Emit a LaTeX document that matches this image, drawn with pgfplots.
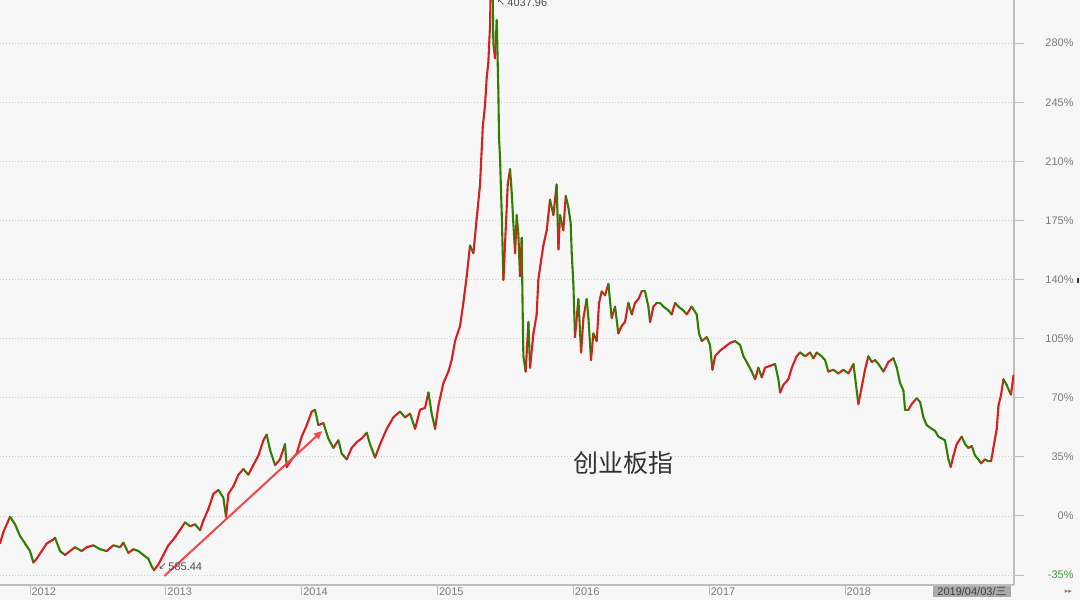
\documentclass[border=0pt]{standalone}
\usepackage{pgfplots}
\pgfplotsset{compat=1.18}
\usepackage{pgfplotstable}
\usepackage{fontspec}
\setmainfont{Liberation Sans}
\newfontfamily\cjk{Noto Sans CJK SC}
\newfontfamily\dejavu{DejaVu Sans}
\usetikzlibrary{arrows.meta}
\definecolor{bg}{HTML}{F7F7F7}
\definecolor{axgray}{HTML}{BEBEBE}
\definecolor{lblgray}{HTML}{7A7A7A}
\definecolor{upred}{HTML}{D81E1E}
\definecolor{dngreen}{HTML}{2F7F00}
\definecolor{arrowred}{HTML}{F04848}
\definecolor{lblgreen}{HTML}{3C9A3C}
\definecolor{boxgray}{HTML}{ABABAB}

% x = year, y = change in percent, c = 1 rising / 0 falling segment
\pgfplotstableread{
x y c
2011.779 -16.3 1
2011.804 -9.5 1
2011.853 -0.5 0
2011.890 -5.0 0
2011.926 -11.8 0
2011.963 -16.3 0
2012.000 -20.8 0
2012.025 -27.6 1
2012.049 -25.3 1
2012.086 -20.8 1
2012.123 -16.3 1
2012.172 -14.0 1
2012.184 -12.9 0
2012.221 -20.8 0
2012.258 -23.1 1
2012.295 -20.8 1
2012.331 -18.5 0
2012.380 -20.8 1
2012.417 -18.5 1
2012.466 -17.4 0
2012.515 -19.7 0
2012.564 -20.8 1
2012.613 -17.4 0
2012.663 -18.5 1
2012.687 -15.8 0
2012.724 -21.9 1
2012.761 -19.7 0
2012.798 -20.8 0
2012.834 -23.1 0
2012.871 -25.3 0
2012.896 -29.9 0
2012.913 -32.1 1
2012.945 -28.7 1
2012.982 -23.1 1
2013.018 -17.4 1
2013.055 -14.0 1
2013.104 -8.4 1
2013.141 -3.8 0
2013.178 -6.1 1
2013.215 -5.0 0
2013.252 -8.4 1
2013.276 -2.7 1
2013.313 4.1 1
2013.350 13.1 1
2013.387 15.4 0
2013.423 10.9 0
2013.443 -0.5 1
2013.460 13.1 1
2013.497 17.6 1
2013.534 24.4 1
2013.571 27.8 0
2013.607 24.4 1
2013.644 30.1 1
2013.681 35.7 1
2013.718 44.8 1
2013.742 48.2 0
2013.767 39.1 0
2013.804 30.1 1
2013.840 33.5 1
2013.877 42.5 0
2013.890 29.0 1
2013.926 33.5 1
2013.963 36.9 1
2014.000 47.0 1
2014.037 53.8 1
2014.074 61.8 1
2014.098 62.9 0
2014.123 53.8 1
2014.160 55.0 0
2014.196 45.9 0
2014.233 40.3 1
2014.270 44.8 0
2014.295 36.9 0
2014.331 33.5 1
2014.368 40.3 1
2014.405 43.7 1
2014.442 45.9 1
2014.479 49.3 0
2014.503 42.5 0
2014.540 34.6 1
2014.577 42.5 1
2014.626 51.6 1
2014.675 58.4 1
2014.724 61.8 0
2014.761 58.4 1
2014.798 60.6 0
2014.835 51.6 1
2014.871 62.9 1
2014.908 64.0 1
2014.933 73.1 0
2014.957 60.6 0
2014.982 51.6 1
2015.006 65.1 1
2015.043 78.7 1
2015.080 85.5 1
2015.104 92.3 1
2015.129 103.6 1
2015.166 112.6 1
2015.190 126.2 1
2015.215 142.1 1
2015.239 160.2 0
2015.264 155.6 1
2015.288 176.0 1
2015.313 196.3 1
2015.333 230.3 1
2015.350 243.8 1
2015.362 259.7 1
2015.374 268.7 1
2015.387 291.3 1
2015.399 350.0 0
2015.411 280.0 0
2015.423 271.0 1
2015.436 293.6 0
2015.448 250.6 0
2015.453 223.5 0
2015.460 212.2 0
2015.473 178.2 0
2015.485 139.8 1
2015.517 196.3 1
2015.534 205.4 0
2015.546 191.8 0
2015.558 173.7 0
2015.571 155.6 1
2015.583 178.2 0
2015.595 166.9 0
2015.607 142.1 1
2015.620 164.7 0
2015.625 130.7 0
2015.632 94.6 0
2015.649 85.5 1
2015.669 114.9 0
2015.681 87.8 1
2015.706 108.1 1
2015.730 119.4 1
2015.742 139.8 1
2015.762 151.1 1
2015.779 160.2 1
2015.804 169.2 1
2015.816 178.2 1
2015.828 187.3 0
2015.853 178.2 1
2015.877 196.3 0
2015.890 157.9 1
2015.902 178.2 0
2015.926 169.2 1
2015.944 189.6 0
2015.963 182.8 0
2015.980 173.7 0
2015.988 155.6 0
2016.000 137.5 0
2016.012 105.9 1
2016.037 128.5 0
2016.057 96.8 1
2016.074 117.2 1
2016.098 128.5 0
2016.111 117.2 0
2016.130 92.3 1
2016.147 108.1 0
2016.172 103.6 1
2016.189 126.2 1
2016.209 133.0 0
2016.233 130.7 1
2016.258 137.5 0
2016.282 117.2 1
2016.307 124.0 0
2016.331 108.1 1
2016.356 112.6 1
2016.380 114.9 1
2016.405 126.2 0
2016.430 119.4 1
2016.454 126.2 1
2016.479 128.5 1
2016.503 133.0 0
2016.528 133.0 0
2016.552 124.0 0
2016.565 114.9 1
2016.589 124.0 1
2016.614 126.2 0
2016.638 126.2 0
2016.663 124.0 0
2016.700 121.7 0
2016.724 119.4 1
2016.749 126.2 0
2016.773 124.0 0
2016.810 121.7 0
2016.835 119.4 1
2016.871 124.0 0
2016.908 119.4 0
2016.925 108.1 0
2016.945 103.6 1
2016.982 105.9 0
2017.006 101.3 0
2017.024 86.6 1
2017.043 94.6 1
2017.080 97.9 1
2017.117 100.2 1
2017.154 102.5 1
2017.190 103.6 0
2017.227 101.3 0
2017.252 94.6 0
2017.276 91.2 0
2017.313 85.5 0
2017.338 81.0 1
2017.362 87.8 0
2017.387 82.1 1
2017.411 87.8 1
2017.448 88.9 1
2017.485 90.0 0
2017.509 81.0 0
2017.522 73.1 1
2017.546 77.6 1
2017.583 81.0 1
2017.608 87.8 1
2017.644 94.6 1
2017.669 96.8 0
2017.706 94.6 1
2017.743 96.8 0
2017.767 93.4 1
2017.792 96.8 0
2017.828 94.6 0
2017.853 92.3 0
2017.877 85.5 1
2017.914 86.6 0
2017.951 84.4 1
2017.988 86.6 0
2018.025 84.4 1
2018.062 90.0 0
2018.086 74.2 0
2018.098 66.3 1
2018.123 76.5 1
2018.147 86.6 1
2018.172 94.6 0
2018.197 91.2 1
2018.221 92.3 0
2018.246 90.0 0
2018.283 85.5 1
2018.319 91.2 1
2018.356 93.4 0
2018.381 87.8 0
2018.405 78.7 0
2018.430 74.2 0
2018.442 62.9 0
2018.466 62.9 1
2018.491 66.3 1
2018.528 69.7 0
2018.553 67.4 0
2018.577 58.4 0
2018.601 53.8 0
2018.638 51.6 0
2018.663 50.4 0
2018.687 47.0 0
2018.712 45.9 0
2018.736 44.8 0
2018.761 33.5 0
2018.778 29.0 1
2018.798 35.7 1
2018.822 42.5 1
2018.859 47.0 0
2018.884 42.5 0
2018.908 40.3 1
2018.933 41.4 0
2018.957 35.7 0
2018.982 33.5 0
2019.001 31.2 1
2019.031 33.5 0
2019.056 32.3 0
2019.075 32.3 1
2019.092 40.3 1
2019.117 51.6 1
2019.129 65.1 1
2019.149 71.9 1
2019.166 81.0 0
2019.190 77.6 0
2019.208 74.2 0
2019.222 71.9 1
2019.240 83.2 1
}\cyb

\begin{document}
\begin{tikzpicture}
\useasboundingbox (0,0) rectangle (540pt,300pt);
\clip (0,0) rectangle (540pt,300pt);
\fill[bg] (0,0) rectangle (540pt,300pt);
\begin{axis}[
  at={(0pt,7.5pt)}, anchor=south west,
  scale only axis, width=507pt, height=292.5pt,
  xmin=2011.779, xmax=2019.244, ymin=-40.9, ymax=305.6,
  axis x line*=bottom, axis y line*=right,
  axis line style={draw=axgray, line width=0.6pt},
  tick align=outside,
  major tick length=5pt,
  tick style={draw=axgray, line width=0.5pt},
  xtick={2012,2013,2014,2015,2016,2017,2018},
  xticklabels={2012,2013,2014,2015,2016,2017,2018},
  xticklabel style={anchor=north west, inner sep=0pt, xshift=0.6pt, yshift=4pt,
    font=\fontsize{5.5}{6}\selectfont, text=lblgray},
  ytick={-35,0,35,70,105,140,175,210,245,280},
  yticklabels={\textcolor{lblgreen}{-35\%},0\%,35\%,70\%,105\%,140\%,175\%,210\%,245\%,280\%},
  yticklabel pos=right,
  yticklabel style={anchor=east, inner sep=0pt, xshift=25pt,
    font=\fontsize{5.5}{6}\selectfont, text=lblgray},
  ymajorgrids,
  grid style={draw=gray!40, dash pattern=on 0.5pt off 1pt, line width=0.4pt},
  clip=true,
  colormap={rg}{color=(dngreen) color=(upred)},
  point meta min=0, point meta max=1,
]
\addplot[mesh, shader=flat corner, point meta=explicit, line width=1.05pt, line cap=round]
  table[x=x, y=y, meta=c]{\cyb};
\draw[arrowred, line width=1pt, -{Triangle[length=4pt,width=3.6pt]}]
  (axis cs:2012.990,-35.5) -- (axis cs:2014.150,50.3);
\end{axis}
% annotations
\node[anchor=west, inner sep=0pt, font=\fontsize{5.5}{6}\selectfont, text=black!70] at (84pt,16.5pt) {585.44};
\node[inner sep=0pt, font=\dejavu\fontsize{5}{6}\selectfont, text=black!70] at (81.3pt,16.8pt) {↙};
\node[anchor=west, inner sep=0pt, font=\fontsize{5.5}{6}\selectfont, text=black!70] at (253.5pt,298.6pt) {4037.96};
\node[inner sep=0pt, font=\dejavu\fontsize{5}{6}\selectfont, text=black!70] at (250.5pt,298.8pt) {↖};
\node[font=\cjk\fontsize{12.5}{14}\selectfont, text=black!80] at (311.5pt,68.5pt) {创业板指};
% date box and scroll marker
\fill[boxgray] (466.5pt,1.5pt) rectangle (505.5pt,7pt);
\node[inner sep=0pt, font=\fontsize{5.5}{6}\selectfont, text=black!75] at (486pt,4.2pt) {2019/04/03/{\cjk 三}};
\node[inner sep=0pt, font=\dejavu\fontsize{3.5}{4}\selectfont, text=lblgray] at (534.2pt,4.2pt) {▸▸};
\fill[black!80] (538.3pt,158.5pt) rectangle (539.5pt,161pt);
\end{tikzpicture}
\end{document}
